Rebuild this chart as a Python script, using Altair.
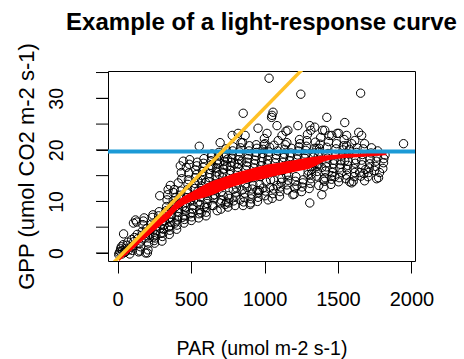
import altair as alt
import pandas as pd

obs_par = [
    8, 12, 17, 21, 26, 30, 34, 38, 41, 46,
    53, 58, 64, 70, 77, 83, 90, 96,
    102, 106, 111, 115, 108, 122, 130, 134, 139, 143, 147,
    152, 156, 160, 163, 168, 172, 176, 181, 186, 190, 194, 198,
    203, 207, 211, 215, 219, 224, 228, 232, 237, 241, 245, 249,
    252, 256, 260, 263, 267, 271, 275, 279, 283, 287, 290, 294, 298,
    302, 305, 309, 312, 316, 319, 323, 326, 330, 334, 337, 341, 344, 347, 349,
    352, 355, 358, 362, 365, 368, 372, 375, 379, 382, 359, 386, 390, 393, 397,
    402, 405, 408, 411, 414, 417, 420, 424, 427, 430, 413, 434, 427, 437, 441, 444, 447,
    452, 455, 458, 461, 464, 467, 470, 473, 476, 479, 482, 485, 468, 488, 491, 494, 498,
    502, 505, 508, 511, 514, 517, 520, 523, 526, 529, 536, 532, 539, 542, 545, 548, 549,
    552, 555, 569, 558, 561, 564, 567, 570, 573, 576, 579, 582, 585, 588, 556, 591, 594, 598,
    602, 603, 606, 609, 612, 615, 618, 621, 624, 627, 630, 633, 636, 639, 642, 645, 648, 644,
    678, 651, 698, 657, 660, 663, 666, 669, 672, 675, 680, 683, 686, 689, 698, 692, 695, 654,
    732, 703, 706, 719, 709, 712, 715, 718, 721, 724, 727, 730, 735, 738, 742, 745, 748,
    753, 751, 756, 759, 787, 762, 765, 768, 771, 774, 777, 780, 783, 786, 780, 790, 795,
    800, 834, 803, 806, 809, 812, 815, 818, 821, 824, 827, 830, 837, 840, 820, 845, 848,
    854, 858, 862, 866, 881, 870, 874, 878, 882, 886, 890, 894, 897, 868, 855, 851, 899,
    902, 905, 909, 913, 917, 921, 925, 929, 933, 937, 941, 945, 948, 944, 949, 938,
    952, 956, 960, 964, 968, 972, 976, 980, 984, 988, 992, 996, 999, 956, 979, 990,
    1024, 1003, 1007, 1037, 1011, 1015, 1019, 1023, 1027, 1031, 1035, 1003, 1017, 1031, 1048, 1041, 1045,
    1053, 1057, 1061, 1085, 1065, 1069, 1073, 1077, 1081, 1089, 1065, 1093, 1085, 1051, 1058, 1097,
    1102, 1106, 1110, 1114, 1118, 1122, 1126, 1130, 1134, 1138, 1142, 1119, 1146, 1149,
    1152, 1193, 1156, 1160, 1164, 1168, 1172, 1176, 1180, 1184, 1152, 1159, 1188,
    1202, 1206, 1220, 1210, 1214, 1218, 1222, 1226, 1230, 1234, 1241, 1227, 1247, 1238,
    1252, 1256, 1260, 1264, 1295, 1268, 1272, 1276, 1280, 1284, 1288, 1292, 1297,
    1308, 1304, 1312, 1316, 1320, 1322, 1326, 1330, 1334, 1338, 1342, 1346, 1308, 1315, 1342,
    1390, 1369, 1400, 1354, 1358, 1390, 1356, 1362, 1366, 1370, 1374, 1356, 1378, 1382, 1395,
    1404, 1408, 1412, 1458, 1416, 1420, 1424, 1428, 1432, 1424, 1436, 1410, 1440, 1424,
    1478, 1452, 1456, 1462, 1466, 1470, 1474, 1482, 1486, 1490, 1458, 1494,
    1525, 1504, 1508, 1512, 1516, 1520, 1530, 1534, 1538, 1505, 1542, 1546, 1546,
    1593, 1580, 1554, 1558, 1562, 1566, 1570, 1574, 1578, 1559, 1559, 1593,
    1607, 1604, 1610, 1614, 1647, 1618, 1622, 1626, 1630, 1614, 1641, 1654,
    1681, 1688, 1656, 1661, 1664, 1668, 1672, 1681, 1661, 1676,
    1749, 1704, 1708, 1712, 1716, 1720, 1724, 1728,
    1776, 1763, 1783, 1756, 1760, 1766, 1770,
    1810, 1812, 1820, 1805, 1946,
]
obs_gpp = [
    -0.3, 0.0, 0.3, 0.8, 1.2, -0.2, 0.5, 1.6, 3.7, 0.1,
    0.2, 0.9, 1.5, 2.1, 0.6, -0.2, 1.1, 2.6,
    0.5, 1.4, 2.2, 3.0, 5.8, 6.4, 6.0, 3.6, 2.8, 0.2, 1.8,
    0.4, 1.2, 2.3, 3.4, 4.2, 5.5, 6.2, 6.8, 2.9, 0.0, 3.8, 4.7,
    0.0, 0.6, 1.9, 2.9, 3.5, 4.5, 4.9, 5.6, 6.9, 7.4, 3.1, 2.4,
    1.9, 2.9, 3.5, 4.3, 5.2, 6.0, 6.4, 7.2, 8.0, 11.1, 4.8, 3.8, 5.6,
    2.3, 3.2, 3.9, 4.6, 5.4, 6.3, 7.0, 7.8, 8.2, 9.0, 10.3, 11.3, 12.3, 5.0, 6.7,
    3.6, 4.4, 5.3, 6.0, 6.9, 7.5, 8.4, 9.4, 10.1, 11.7, 13.1, 12.3, 5.8, 8.9, 10.8,
    4.6, 5.4, 6.4, 7.1, 7.9, 8.6, 9.5, 10.4, 11.2, 12.0, 13.6, 15.6, 16.9, 14.4, 6.9, 9.0, 17.8,
    5.8, 6.5, 7.2, 8.1, 8.9, 9.8, 10.7, 11.6, 12.3, 13.3, 14.2, 15.5, 16.6, 17.2, 18.1, 7.6, 10.2,
    6.3, 7.0, 7.8, 8.5, 9.2, 10.3, 11.2, 12.5, 13.5, 14.6, 15.2, 16.1, 16.9, 17.6, 9.7, 12.0, 14.0,
    6.8, 7.6, 7.8, 8.4, 9.4, 10.8, 12.1, 13.0, 14.1, 15.0, 15.8, 16.6, 17.4, 18.3, 20.7, 8.9, 11.5, 13.7,
    7.2, 7.9, 8.8, 9.6, 10.6, 11.6, 12.7, 13.8, 14.6, 15.4, 16.2, 17.0, 17.9, 18.7, 19.2, 9.2, 11.1, 16.6,
    8.2, 9.2, 9.7, 10.5, 11.3, 12.2, 13.4, 14.9, 15.7, 16.5, 17.3, 18.0, 18.8, 19.5, 21.4, 15.2, 17.6, 12.8,
    9.4, 8.5, 10.2, 11.1, 11.9, 13.0, 14.6, 15.5, 16.3, 17.1, 17.8, 18.6, 19.2, 20.2, 9.9, 16.8, 18.2,
    11.1, 8.9, 9.7, 10.6, 12.3, 13.5, 15.2, 16.0, 16.9, 17.6, 18.4, 19.1, 19.8, 20.6, 22.8, 10.1, 17.3,
    9.2, 10.3, 11.0, 11.8, 12.6, 13.6, 15.7, 16.6, 17.3, 18.1, 18.8, 19.6, 20.4, 21.4, 23.2, 17.8, 12.2,
    9.2, 9.9, 10.8, 11.6, 12.7, 13.4, 16.1, 16.9, 17.6, 18.3, 19.0, 19.8, 20.8, 22.8, 27.1, 21.4, 14.5,
    9.4, 9.7, 10.5, 11.4, 12.4, 13.2, 14.6, 16.5, 17.3, 18.0, 18.8, 19.5, 20.3, 21.0, 12.1, 15.2,
    10.0, 10.8, 11.7, 12.1, 13.3, 14.8, 16.9, 17.7, 18.5, 19.3, 20.1, 21.0, 22.2, 24.2, 15.6, 12.6,
    10.3, 11.1, 12.0, 12.7, 13.8, 15.4, 17.2, 18.0, 18.9, 19.6, 20.5, 21.2, 23.2, 33.9, 26.3, 14.2, 16.0,
    10.6, 11.5, 12.4, 13.1, 14.1, 15.8, 17.5, 18.3, 19.0, 19.8, 20.9, 21.8, 24.7, 26.7, 27.3, 16.4,
    11.0, 11.9, 12.8, 13.7, 14.5, 16.0, 17.6, 18.5, 19.2, 20.1, 21.0, 22.8, 23.6, 15.2,
    13.2, 11.3, 12.2, 14.1, 15.0, 16.4, 17.9, 18.7, 19.4, 20.3, 21.4, 23.8, 16.9,
    11.4, 12.6, 13.1, 13.9, 14.8, 16.8, 18.2, 19.0, 19.8, 20.6, 21.2, 24.7, 30.8, 22.0,
    11.9, 12.8, 13.6, 14.2, 15.2, 17.1, 18.4, 19.2, 19.9, 20.7, 21.8, 23.0, 15.9,
    9.7, 12.5, 13.5, 14.4, 15.3, 16.2, 16.8, 17.4, 18.6, 19.4, 20.3, 21.5, 24.7, 23.8, 24.4,
    11.3, 13.1, 14.2, 14.9, 15.8, 16.6, 16.8, 17.2, 18.8, 19.6, 20.3, 20.3, 21.1, 22.4, 23.8,
    12.8, 13.9, 14.6, 15.0, 15.9, 16.7, 17.5, 18.4, 19.3, 20.5, 21.6, 23.8, 22.8, 26.3,
    14.8, 13.3, 14.3, 15.6, 16.4, 17.3, 18.0, 19.1, 20.2, 21.2, 22.8, 23.2,
    15.6, 13.8, 14.6, 16.5, 17.2, 17.9, 19.0, 20.0, 20.8, 23.2, 22.0, 25.3, 17.9,
    13.6, 13.8, 14.4, 15.1, 16.2, 17.0, 17.8, 19.2, 20.1, 20.8, 22.8, 21.2,
    16.4, 13.9, 14.8, 15.6, 15.6, 17.4, 18.1, 19.5, 20.4, 21.8, 23.4, 31.0,
    14.0, 16.2, 14.9, 18.0, 17.1, 19.1, 20.2, 21.2, 22.8, 15.4,
    16.0, 14.8, 15.6, 16.5, 17.3, 18.3, 19.4, 20.4,
    14.6, 14.4, 15.6, 16.8, 17.8, 18.6, 19.8,
    17.5, 18.3, 19.0, 16.4, 21.2,
]
assert len(obs_par) == len(obs_gpp), (len(obs_par), len(obs_gpp))

# Fitted model band (red points), upper and lower edge
fit_par = [10, 50, 100, 150, 200, 250, 300, 350, 400, 450, 500, 550, 600, 650,
           700, 750, 800, 850, 900, 950, 1000, 1050, 1100, 1150, 1200, 1250,
           1300, 1350, 1400, 1450, 1500, 1550, 1600, 1650, 1700, 1750, 1800, 1830]
fit_hi = [-0.4, 0.6, 1.9, 3.3, 4.6, 5.9, 7.2, 8.4, 10.0, 11.0, 11.8, 12.6, 13.4, 14.0,
          14.5, 15.0, 15.5, 15.9, 16.3, 16.7, 17.0, 17.3, 17.5, 17.8, 18.0, 18.3,
          18.5, 18.7, 18.9, 19.0, 19.1, 19.2, 19.3, 19.3, 19.4, 19.4, 19.4, 19.4]
fit_lo = [-1.6, -0.6, 0.6, 1.9, 3.1, 4.3, 5.5, 6.7, 8.3, 9.3, 10.0, 10.4, 10.8, 11.3,
          11.9, 12.5, 13.0, 13.4, 13.8, 14.1, 14.4, 14.8, 15.1, 15.4, 15.7, 16.0,
          16.3, 16.9, 17.7, 18.1, 18.3, 18.4, 18.5, 18.6, 18.7, 18.8, 18.9, 19.0]

# Reference lines
pmax = 19.7                       # horizontal line (asymptote)
slope_intercept = -1.1            # initial slope line
slope_value = 0.0292
x_domain = [-65, 2024]
y_domain = [-1.56, 35.3]

x_ticks = [0, 500, 1000, 1500, 2000]
y_ticks = [0, 5, 10, 15, 20, 25, 30, 35]

FONT = "Liberation Sans"

obs_df = pd.DataFrame({"par": obs_par, "gpp": obs_gpp})
fit_df = pd.DataFrame({"par": fit_par, "hi": fit_hi, "lo": fit_lo})
line_df = pd.DataFrame({"par": x_domain,
                        "gpp": [slope_intercept + slope_value * v for v in x_domain]})
h_df = pd.DataFrame({"gpp": [pmax]})
ytick_df = pd.DataFrame({"gpp": y_ticks})

xscale = alt.Scale(domain=x_domain, nice=False, zero=False)
yscale = alt.Scale(domain=y_domain, nice=False, zero=False)

xaxis = alt.Axis(values=x_ticks, format="d", title="PAR (umol m-2 s-1)", labelFlush=False,
                 grid=False, domain=False, ticks=True, tickColor="black", tickOpacity=1,
                 tickWidth=1, labelFontSize=20, labelPadding=16, tickSize=12,
                 titleFontSize=19.5, titleFontWeight="normal",
                 titleX=153.5, titleY=93, titleAlign="center", titleBaseline="alphabetic")
yaxis = alt.Axis(values=y_ticks, format="d", title="GPP (umol CO2 m-2 s-1)", labelFlush=False,
                 grid=False, domain=False, ticks=True, tickColor="black", tickOpacity=1,
                 tickWidth=1,
                 labelExpr="datum.value % 10 == 0 ? datum.label : ''",
                 labelAngle=270, labelAlign="center", labelBaseline="middle",
                 labelFontSize=19.5, labelPadding=40, tickSize=12,
                 titleFontSize=22, titleFontWeight="normal", titleAngle=270,
                 titleX=-75, titleY=95, titleAlign="center", titleBaseline="alphabetic")

points = alt.Chart(obs_df).mark_point(
    shape="circle", filled=False, color="black", strokeWidth=1, size=70, opacity=1, clip=True
).encode(
    x=alt.X("par:Q", scale=xscale, axis=xaxis),
    y=alt.Y("gpp:Q", scale=yscale, axis=yaxis),
)

band = alt.Chart(fit_df).mark_area(color="#FF0000", opacity=1, clip=True).encode(
    x=alt.X("par:Q", scale=xscale),
    y=alt.Y("hi:Q", scale=yscale),
    y2="lo:Q",
)

hline = alt.Chart(h_df).mark_rule(color="#1C9AD6", strokeWidth=4).encode(
    y=alt.Y("gpp:Q", scale=yscale)
)

sline = alt.Chart(line_df).mark_line(color="#FFC125", strokeWidth=3.5, clip=True).encode(
    x=alt.X("par:Q", scale=xscale),
    y=alt.Y("gpp:Q", scale=yscale),
)

# y tick marks at every 5 units (outside the plot box, like R's axis)
yticks = alt.Chart(ytick_df).mark_rule(color="black", strokeWidth=1).encode(
    y=alt.Y("gpp:Q", scale=yscale),
    x=alt.value(-12),
    x2=alt.value(0),
)

chart = alt.layer(points, band, hline, sline, yticks).properties(
    width=307, height=190,
    background="white",
    title=alt.TitleParams("Example of a light-response curve", fontSize=24,
                          fontWeight="bold", font=FONT, anchor="middle",
                          frame="group", baseline="alphabetic", offset=13, dy=24,
                          color="black"),
    autosize=alt.AutoSizeParams(type="none"),
    padding={"left": 108, "top": 71, "right": 49, "bottom": 98},
).configure_view(
    stroke="black", strokeWidth=1
).configure_axis(
    domain=False, grid=False, ticks=True,
    labelColor="black", titleColor="black", labelFont=FONT, titleFont=FONT,
    labelOverlap=False,
)

chart.save("out.html", embed_options={"renderer": "svg", "actions": False})
